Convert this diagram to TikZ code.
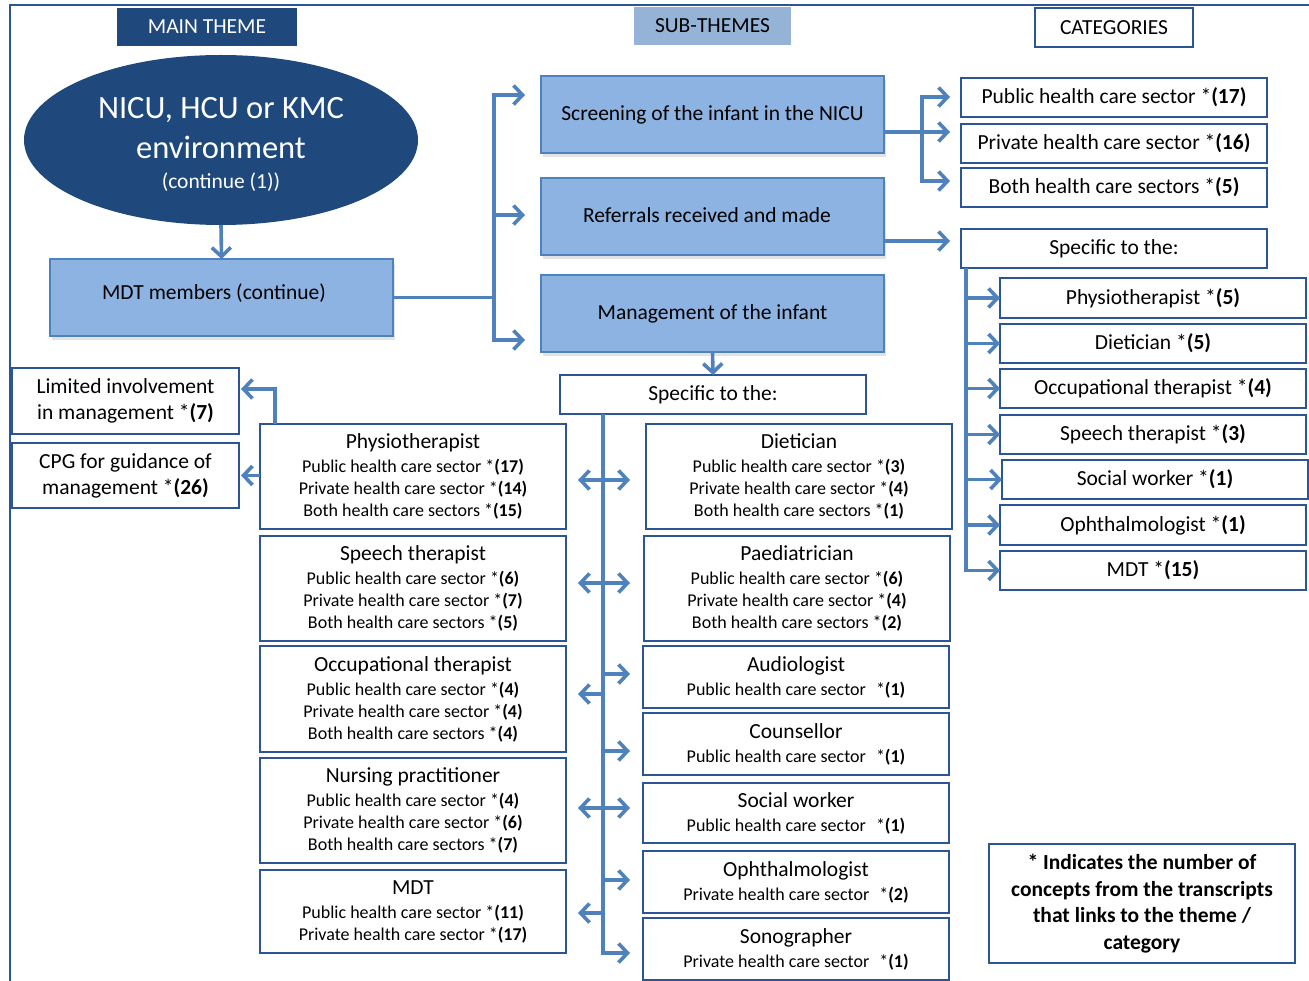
\documentclass[tikz,border=0pt]{standalone}
\usepackage{fontspec}
\setmainfont{Carlito}
\usetikzlibrary{arrows.meta,shapes.geometric,shadows}

\definecolor{navy}{HTML}{1F497D}
\definecolor{subfill}{HTML}{8DB3E2}
\definecolor{subedge}{HTML}{4F81BD}
\definecolor{hdrfill}{HTML}{95B3D7}
\definecolor{edge}{HTML}{2C5597}
\definecolor{link}{HTML}{4F81BD}

\newcommand{\fsmain}{\fontsize{21.5}{26}\selectfont}
\newcommand{\fsbig}{\fontsize{32.5}{40}\selectfont}
\newcommand{\fssmall}{\fontsize{18}{22}\selectfont}
\newcommand{\tally}[1]{*\textbf{(#1)}}
\newcommand{\hd}[1]{{\fsmain #1}\\[2pt]}

\begin{document}
\begin{tikzpicture}[x=1pt,y=-1pt,
  every node/.style={inner sep=0pt, outer sep=0pt, align=center, font=\fsmain},
  themebox/.style={fill=navy, text=white},
  subhead/.style={fill=hdrfill},
  subbox/.style={fill=subfill, draw=subedge, line width=1.8pt,
    drop shadow={shadow xshift=2pt, shadow yshift=-4pt, opacity=0.22}},
  catbox/.style={fill=white, draw=edge, line width=1.8pt},
  infobox/.style={catbox, font=\fssmall},
  conn/.style={draw=link, line width=3.6pt},
  arr/.style={conn, -{Straight Barb[length=9pt,width=19pt]}},
]
\useasboundingbox (0,0) rectangle (1309,981);

% frame
\coordinate (fBL) at (10,981);
\coordinate (fTL) at (10,5);
\coordinate (fTR) at (1309,5);
\draw[draw=edge, line width=1.8pt] (fBL) -- (fTL) -- (fTR);

% column headings
\node[themebox, minimum width=180, minimum height=38] (hMain) at (207,27) {MAIN THEME};
\node[subhead, minimum width=157, minimum height=38] (hSub) at (712.5,26) {SUB-THEMES};
\node[catbox, minimum width=158, minimum height=39] (hCat) at (1114,27.5) {CATEGORIES};

% main theme
\node[ellipse, fill=navy, minimum width=394, minimum height=170] (env) at (221,140) {};
\node[text=white, font=\fsbig] (envText) at (221,144)
  {NICU, HCU or KMC\\ environment\\[-10pt]{\fsmain (continue (1))}};
\node[subbox, minimum width=343, minimum height=77] (mdt) at (221.5,297.5) {};
\node (mdtText) at (214,293) {MDT members (continue)};

% sub-themes
\node[subbox, minimum width=343, minimum height=77] (screen) at (712.5,114.5) {Screening of the infant in the NICU};
\node[subbox, minimum width=343, minimum height=77] (ref) at (712.5,216.5) {};
\node (refText) at (707,215) {Referrals received and made};
\node[subbox, minimum width=343, minimum height=77] (mgmt) at (712.5,313.5) {Management of the infant};

% categories: screening and referrals
\node[catbox, minimum width=306, minimum height=39] (cPub) at (1114,97.5) {Public health care sector \tally{17}};
\node[catbox, minimum width=306, minimum height=39] (cPriv) at (1114,143.5) {Private health care sector \tally{16}};
\node[catbox, minimum width=306, minimum height=39] (cBoth) at (1114,187.5) {Both health care sectors \tally{5}};
\node[catbox, minimum width=306, minimum height=39] (specR) at (1114,248.5) {Specific to the:};

\node[catbox, minimum width=306, minimum height=40] (rPhys) at (1153,298) {Physiotherapist \tally{5}};
\node[catbox, minimum width=306, minimum height=39] (rDiet) at (1153,343.5) {Dietician \tally{5}};
\node[catbox, minimum width=306, minimum height=39] (rOT) at (1153,388.5) {Occupational therapist \tally{4}};
\node[catbox, minimum width=306, minimum height=39] (rSpeech) at (1153,434.5) {Speech therapist \tally{3}};
\node[catbox, minimum width=306, minimum height=39] (rSocial) at (1155,479.5) {Social worker \tally{1}};
\node[catbox, minimum width=306, minimum height=40] (rOph) at (1153,525) {Ophthalmologist \tally{1}};
\node[catbox, minimum width=306, minimum height=39] (rMDT) at (1153,570.5) {MDT \tally{15}};

% categories: management
\node[catbox, minimum width=306, minimum height=39] (specM) at (713,394.5) {Specific to the:};

\node[catbox, minimum width=227, minimum height=66] (lim) at (125.5,401) {Limited involvement\\ in management \tally{7}};
\node[catbox, minimum width=227, minimum height=65] (cpg) at (125.5,475.5) {CPG for guidance of\\ management \tally{26}};

\node[infobox, minimum width=306, minimum height=105] (pPhys) at (413,476.5)
  {\hd{Physiotherapist}Public health care sector \tally{17}\\ Private health care sector \tally{14}\\ Both health care sectors \tally{15}};
\node[infobox, minimum width=306, minimum height=105] (pSpeech) at (413,588.5)
  {\hd{Speech therapist}Public health care sector \tally{6}\\ Private health care sector \tally{7}\\ Both health care sectors \tally{5}};
\node[infobox, minimum width=306, minimum height=106] (pOT) at (413,699)
  {\hd{Occupational therapist}Public health care sector \tally{4}\\ Private health care sector \tally{4}\\ Both health care sectors \tally{4}};
\node[infobox, minimum width=306, minimum height=105] (pNurse) at (413,810.5)
  {\hd{Nursing practitioner}Public health care sector \tally{4}\\ Private health care sector \tally{6}\\ Both health care sectors \tally{7}};
\node[infobox, minimum width=306, minimum height=83] (pMDT) at (413,911.5)
  {\hd{MDT}Public health care sector \tally{11}\\ Private health care sector \tally{17}};

\node[infobox, minimum width=306, minimum height=105] (dDiet) at (799,476.5)
  {\hd{Dietician}Public health care sector \tally{3}\\ Private health care sector \tally{4}\\ Both health care sectors \tally{1}};
\node[infobox, minimum width=306, minimum height=105] (dPaed) at (797,588.5)
  {\hd{Paediatrician}Public health care sector \tally{6}\\ Private health care sector \tally{4}\\ Both health care sectors \tally{2}};
\node[infobox, minimum width=306, minimum height=62] (dAud) at (796,677)
  {\hd{Audiologist}Public health care sector \hspace{6pt}\tally{1}};
\node[infobox, minimum width=306, minimum height=62] (dCoun) at (796,744)
  {\hd{Counsellor}Public health care sector \hspace{6pt}\tally{1}};
\node[infobox, minimum width=306, minimum height=60] (dSoc) at (796,813)
  {\hd{Social worker}Public health care sector \hspace{6pt}\tally{1}};
\node[infobox, minimum width=306, minimum height=62] (dOph) at (796,882)
  {\hd{Ophthalmologist}Private health care sector \hspace{6pt}\tally{2}};
\node[infobox, minimum width=306, minimum height=62] (dSono) at (796,949)
  {\hd{Sonographer}Private health care sector \hspace{6pt}\tally{1}};

% key
\node[catbox, minimum width=306, minimum height=119, font=\fontsize{21.5}{26.7}\selectfont\bfseries]
  (key) at (1142,903.5) {* Indicates the number of\\ concepts from the transcripts\\ that links to the theme /\\ category};

% ---- connectors ----
\draw[arr] (env.south) -- (mdt.north);

\coordinate (jL) at (494,297.5);
\coordinate (tS) at (525,95);
\coordinate (tR) at (525,215);
\coordinate (tM) at (525,340);
\draw[conn] (mdt.east) -- (jL);
\draw[arr] (jL) |- (tS);
\draw[arr] (jL) |- (tR);
\draw[arr] (jL) |- (tM);

\coordinate (jS) at (922,132);
\coordinate (tP) at (950,97);
\coordinate (tQ) at (950,132);
\coordinate (tB) at (950,181);
\draw[conn] (screen.east |- jS) -- (jS);
\draw[arr] (jS) |- (tP);
\draw[arr] (jS) -- (tQ);
\draw[arr] (jS) |- (tB);

\coordinate (tF) at (950,241);
\draw[arr] (ref.east |- tF) -- (tF);

\coordinate (xR) at (966,268);
\foreach \t in {rPhys,rDiet,rOT,rSpeech,rSocial,rOph,rMDT}
  \draw[arr] (specR.south -| xR) |- (\t.west);

\draw[arr] (mgmt.south) -- (specM.north);

% management spine
\coordinate (xM) at (603,414);
\coordinate (aEnd) at (603,953);
\draw[arr, shorten >=13pt] (specM.south -| xM) -- (aEnd) -- (aEnd -| dSono.west);

\coordinate (a1) at (603,480);
\coordinate (a2) at (603,583);
\coordinate (a3) at (603,674);
\coordinate (a4) at (603,694);
\coordinate (a5) at (603,751);
\coordinate (a6) at (603,808);
\coordinate (a7) at (603,880);
\coordinate (a8) at (603,913);

\draw[arr, shorten >=12pt] (a1) -- (a1 -| pPhys.east);
\draw[arr, shorten >=16pt] (a1) -- (a1 -| dDiet.west);
\draw[arr, shorten >=12pt] (a2) -- (a2 -| pSpeech.east);
\draw[arr, shorten >=14pt] (a2) -- (a2 -| dPaed.west);
\draw[arr, shorten >=13pt] (a3) -- (a3 -| dAud.west);
\draw[arr, shorten >=12pt] (a4) -- (a4 -| pOT.east);
\draw[arr, shorten >=13pt] (a5) -- (a5 -| dCoun.west);
\draw[arr, shorten >=12pt] (a6) -- (a6 -| pNurse.east);
\draw[arr, shorten >=13pt] (a6) -- (a6 -| dSoc.west);
\draw[arr, shorten >=13pt] (a7) -- (a7 -| dOph.west);
\draw[arr, shorten >=12pt] (a8) -- (a8 -| pMDT.east);

% physiotherapist to management guidance
\coordinate (kL) at (275,389);
\draw[arr, shorten >=2pt] (pPhys.north -| kL) -- (kL) -- (kL -| lim.east);
\draw[arr, shorten >=2pt] (pPhys.west |- cpg.east) -- (cpg.east);

\end{tikzpicture}
\end{document}
